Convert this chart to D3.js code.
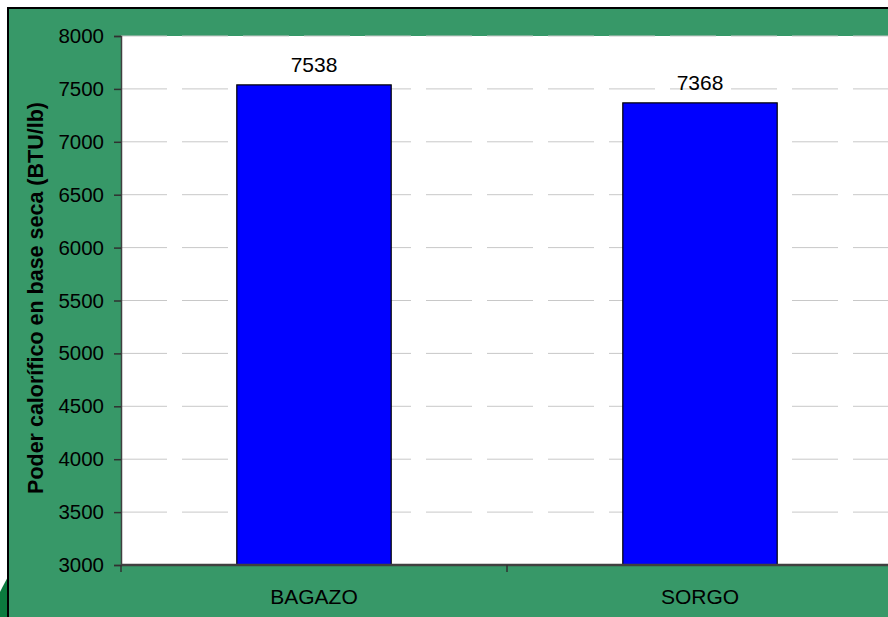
<!DOCTYPE html>
<html>
<head>
<meta charset="utf-8">
<script src="https://cdn.jsdelivr.net/npm/d3@7"></script>
<style>
  html, body { margin: 0; padding: 0; background: #ffffff; }
  svg { display: block; font-family: "Liberation Sans", Arial, sans-serif; }
</style>
</head>
<body>
<svg id="chart" width="888" height="617"></svg>
<script>
// Dry-basis heating value per fuel
const categories = ["BAGAZO", "SORGO"];
const values = [7538, 7368];
const yTicks = [3000, 3500, 4000, 4500, 5000, 5500, 6000, 6500, 7000, 7500, 8000];
const yTitle = "Poder calorífico en base seca (BTU/lb)";

const svg = d3.select("#chart");
const W = 888, H = 617;

// Slide frame
svg.append("rect").attr("x", 0).attr("y", 0).attr("width", W).attr("height", H).attr("fill", "#ffffff");
svg.append("path")
  .attr("d", "M0,592 C3,586 6,580 9,575 L9,617 L0,617 Z")
  .attr("fill", "#0b7a3e");
svg.append("rect").attr("x", 8).attr("y", 8).attr("width", W).attr("height", H)
  .attr("fill", "#379868");
svg.append("path").attr("d", `M8,${H} L8,8 L${W},8`)
  .attr("fill", "none").attr("stroke", "#000").attr("stroke-width", 2);

const plot = { left: 121, top: 36, right: 893, bottom: 565 };

const x = d3.scaleBand().domain(categories).range([plot.left, plot.right]).paddingInner(0.6).paddingOuter(0.3);
const y = d3.scaleLinear().domain([3000, 8000]).range([plot.bottom, plot.top]);

// Plot area
svg.append("rect")
  .attr("x", plot.left).attr("y", plot.top)
  .attr("width", plot.right - plot.left).attr("height", plot.bottom - plot.top)
  .attr("fill", "#ffffff");

// Dashed gridlines
svg.append("g").selectAll("line").data(yTicks.filter(t => t > 3000)).join("line")
  .attr("x1", plot.left).attr("x2", plot.right)
  .attr("y1", d => y(d)).attr("y2", d => y(d))
  .attr("stroke", "#c8c8c8").attr("stroke-width", 1)
  .attr("stroke-dasharray", "46,15");

// Bars
svg.append("g").selectAll("rect").data(values).join("rect")
  .attr("x", (d, i) => x(categories[i]))
  .attr("y", d => y(d))
  .attr("width", x.bandwidth())
  .attr("height", d => y(3000) - y(d))
  .attr("fill", "#0000ff").attr("stroke", "#000").attr("stroke-width", 1.2);

// Value labels
svg.append("g").selectAll("text").data(values).join("text")
  .attr("x", (d, i) => x(categories[i]) + x.bandwidth() / 2)
  .attr("y", d => y(d) - 13)
  .attr("text-anchor", "middle")
  .attr("font-size", 21).attr("fill", "#000")
  .text(d => d);

// Y axis
const yAxis = d3.axisLeft(y).tickValues(yTicks).tickSize(7).tickPadding(10).tickFormat(d3.format("d"));
const gy = svg.append("g").attr("transform", `translate(${plot.left},0)`).call(yAxis);
gy.select(".domain").attr("stroke", "#404040").attr("stroke-width", 1.5);
gy.selectAll(".tick line").attr("stroke", "#303030").attr("stroke-width", 1.5);
gy.selectAll(".tick text").attr("font-size", 20.5).attr("fill", "#000")
  .attr("font-family", "'Liberation Sans', Arial, sans-serif");

// X axis with ticks at category boundaries
const gx = svg.append("g").attr("transform", `translate(0,${plot.bottom})`);
gx.append("line").attr("x1", plot.left).attr("x2", plot.right).attr("y1", 0).attr("y2", 0)
  .attr("stroke", "#404040").attr("stroke-width", 2.5);
const step = x.step();
const boundaries = d3.range(categories.length + 1).map(i => x(categories[0]) - x.paddingInner() * step / 2 + i * step);
gx.selectAll("line.tk").data(boundaries).join("line").attr("class", "tk")
  .attr("x1", d => d).attr("x2", d => d).attr("y1", 0).attr("y2", 7)
  .attr("stroke", "#303030").attr("stroke-width", 1.5);
gx.selectAll("text").data(categories).join("text")
  .attr("x", d => x(d) + x.bandwidth() / 2)
  .attr("y", 39)
  .attr("text-anchor", "middle")
  .attr("font-size", 21).attr("fill", "#000")
  .text(d => d);

// Y axis title
svg.append("text")
  .attr("transform", `translate(43,298) rotate(-90)`)
  .attr("text-anchor", "middle")
  .attr("font-size", 21.5).attr("font-weight", "bold").attr("fill", "#000")
  .text(yTitle);
</script>
</body>
</html>
